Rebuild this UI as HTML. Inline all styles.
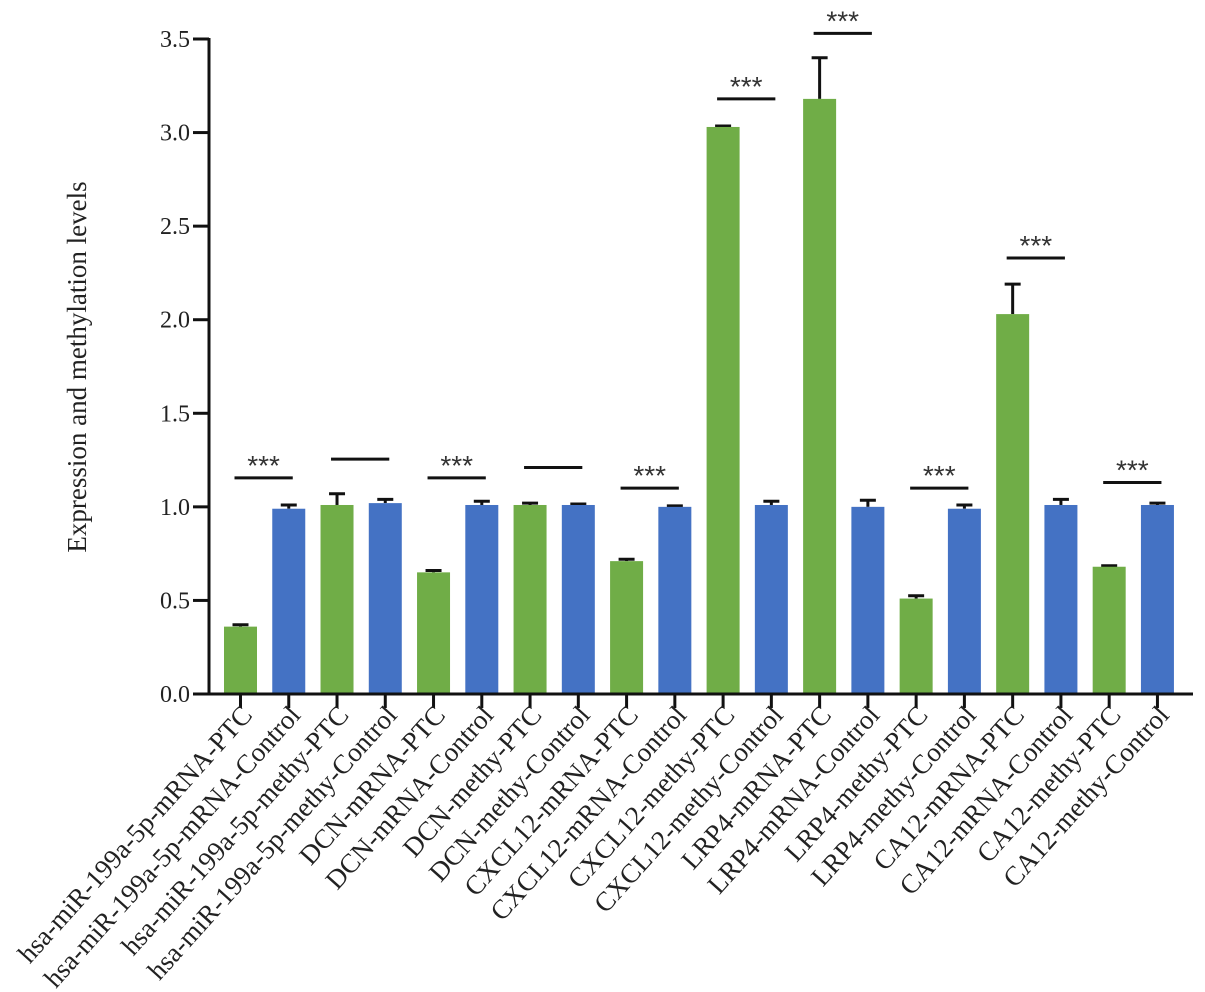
<!DOCTYPE html>
<html><head><meta charset="utf-8"><style>body{margin:0;background:#fff}svg{display:block}</style></head>
<body>
<svg id="chart" width="1205" height="992" xmlns="http://www.w3.org/2000/svg" font-family="'Liberation Serif', serif"></svg>
<script>
const categories = ["hsa-miR-199a-5p-mRNA-PTC","hsa-miR-199a-5p-mRNA-Control","hsa-miR-199a-5p-methy-PTC","hsa-miR-199a-5p-methy-Control","DCN-mRNA-PTC","DCN-mRNA-Control","DCN-methy-PTC","DCN-methy-Control","CXCL12-mRNA-PTC","CXCL12-mRNA-Control","CXCL12-methy-PTC","CXCL12-methy-Control","LRP4-mRNA-PTC","LRP4-mRNA-Control","LRP4-methy-PTC","LRP4-methy-Control","CA12-mRNA-PTC","CA12-mRNA-Control","CA12-methy-PTC","CA12-methy-Control"];
const values = [0.36,0.99,1.01,1.02,0.65,1.01,1.01,1.01,0.71,1.0,3.03,1.01,3.18,1.0,0.51,0.99,2.03,1.01,0.68,1.01];
const errors = [0.01,0.02,0.06,0.02,0.01,0.02,0.01,0.005,0.01,0.005,0.005,0.02,0.22,0.035,0.015,0.02,0.16,0.03,0.005,0.01];
const sigLevels = [1.155,1.255,1.155,1.21,1.10,3.18,3.53,1.10,2.33,1.13];
const sigLabels = ["***","","***","","***","***","***","***","***","***"];
const yTicks = [0,0.5,1.0,1.5,2.0,2.5,3.0,3.5];

const svg = document.getElementById('chart');
const NS = 'http://www.w3.org/2000/svg';
const x0 = 209, yBase = 694, yTop = 39, yMax = 3.5, step = 48.26, firstC = 240.5, bw = 33;
const y = v => yBase - v / yMax * (yBase - yTop);
const xc = i => firstC + i * step;
function el(tag, attrs, parent) { const e = document.createElementNS(NS, tag); for (const k in attrs) e.setAttribute(k, attrs[k]); (parent || svg).appendChild(e); return e; }

categories.forEach((c, i) => {
  const g = el('g', {});
  
  
  const top = y(values[i]);
  const eTop = y(values[i] + errors[i]);
  const ln = el('line', {x1: xc(i), x2: xc(i), y1: top, y2: eTop, stroke: '#111', 'stroke-width': 3}, g);
  
  
  const cap = el('line', {x1: xc(i) - 8, x2: xc(i) + 8, y1: eTop, y2: eTop, stroke: '#111', 'stroke-width': 3}, g);
  
  
  const r = el('rect', {x: xc(i) - bw / 2, y: top, width: bw, height: yBase - top, fill: i % 2 ? '#4472C4' : '#70AD47'}, g);
  
  
  const t = el('line', {x1: xc(i), x2: xc(i), y1: yBase, y2: yBase + 14, stroke: '#111', 'stroke-width': 3}, g);
  
  
  const lx = xc(i) + 13, ly = 716;
  const lab = el('text', {x: lx, y: ly, 'text-anchor': 'end', 'font-size': 27, fill: '#222', transform: `rotate(-48 ${lx} ${ly})`}, g);
  
  
  lab.textContent = c;
});

sigLevels.forEach((v, k) => {
  const g = el('g', {});
  
  
  const a = xc(2 * k) - 6, b = xc(2 * k + 1) + 4, yy = y(v);
  el('line', {x1: a, x2: b, y1: yy, y2: yy, stroke: '#111', 'stroke-width': 3}, g);
  if (sigLabels[k]) {
    const t = el('text', {x: (a + b) / 2, y: yy - 3, 'text-anchor': 'middle', 'font-size': 28, fill: '#333', 'font-family': "'Liberation Sans', sans-serif"}, g);
    t.textContent = sigLabels[k];
  }
});

const ax = el('g', {});


el('line', {x1: x0, x2: x0, y1: yTop - 1, y2: yBase + 1.5, stroke: '#111', 'stroke-width': 3}, ax);
yTicks.forEach(v => {
  el('line', {x1: x0 - 16, x2: x0, y1: y(v), y2: y(v), stroke: '#111', 'stroke-width': 3}, ax);
  const t = el('text', {x: x0 - 19, y: y(v) + 8, 'text-anchor': 'end', 'font-size': 24, fill: '#222'}, ax);
  
  
  t.textContent = v.toFixed(1);
});
const xa = el('line', {x1: x0 - 1.5, x2: 1193, y1: yBase, y2: yBase, stroke: '#111', 'stroke-width': 3});


const yt = el('text', {x: 86, y: 367, 'text-anchor': 'middle', 'font-size': 27, fill: '#222', transform: 'rotate(-90 86 367)'});


yt.textContent = 'Expression and methylation levels';
</script>
</body></html>
